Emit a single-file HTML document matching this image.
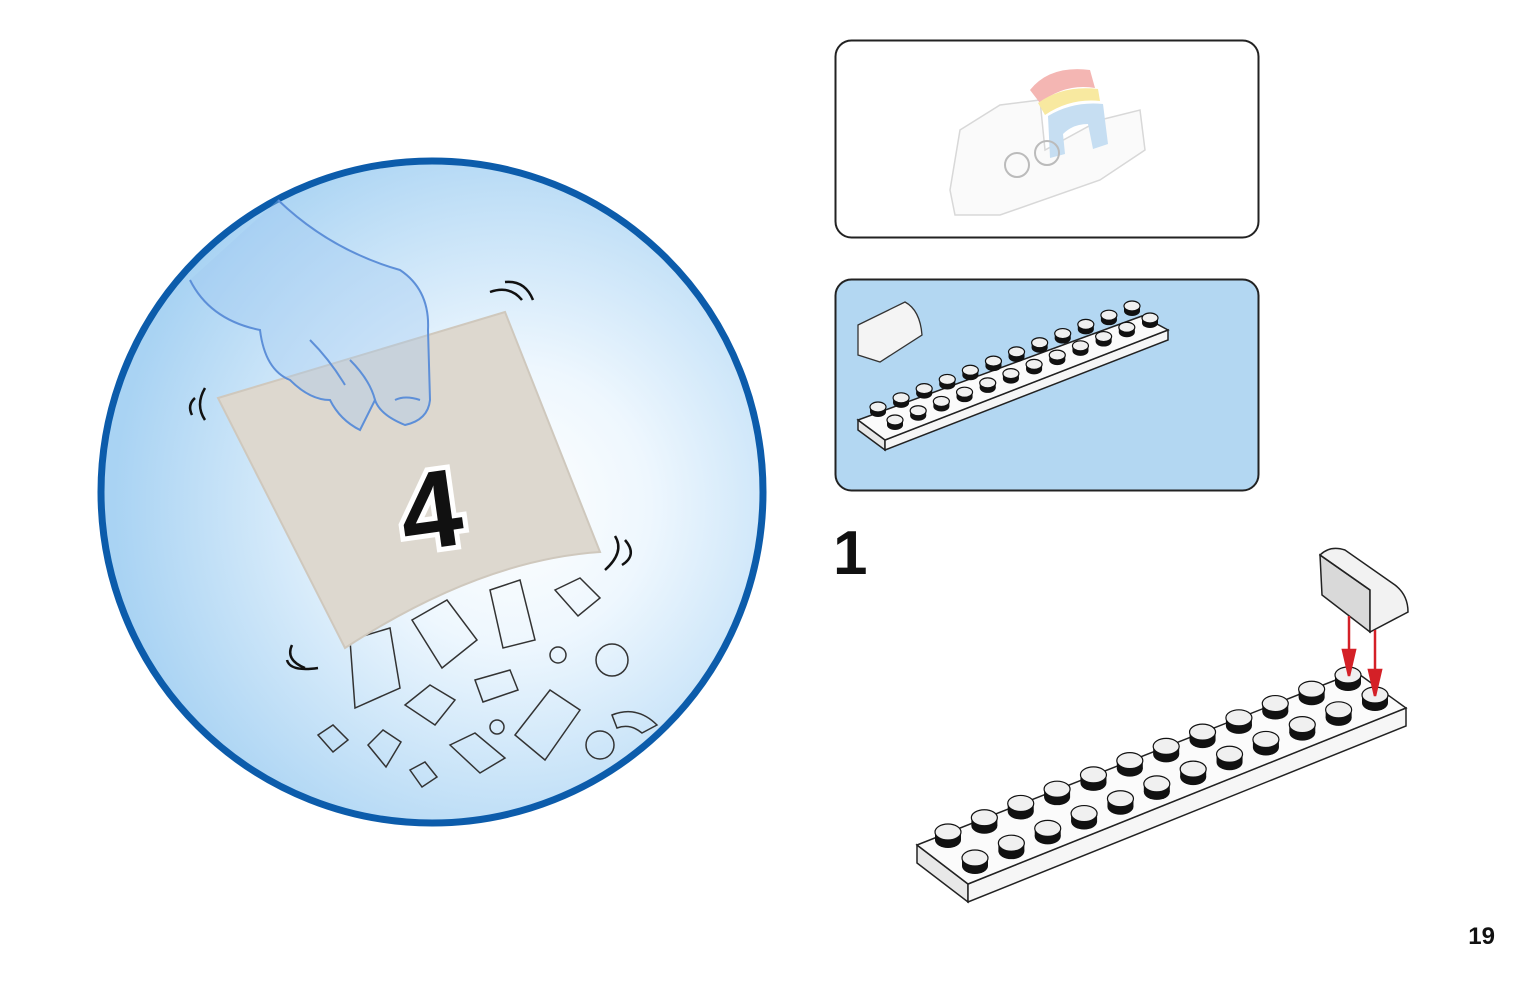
<!DOCTYPE html>
<html><head><meta charset="utf-8"><style>
html,body{margin:0;padding:0;background:#fff;}
svg{display:block;}
</style></head><body>
<svg id="s" width="1535" height="984" viewBox="0 0 1535 984" xmlns="http://www.w3.org/2000/svg" font-family="Liberation Sans, sans-serif">
<defs>
<radialGradient id="g" cx="0.62" cy="0.52" r="0.6">
<stop offset="0" stop-color="#ffffff"/>
<stop offset="0.35" stop-color="#eef7fe"/>
<stop offset="1" stop-color="#a9d3f3"/>
</radialGradient>
</defs>
<circle cx="432" cy="492" r="331" fill="url(#g)" stroke="#0c5cab" stroke-width="7"/>
<!-- bricks below bag -->
<g fill="none" stroke="#333" stroke-width="1.5">
<path d="M350 640 l40 -12 l10 60 l-45 20 z"/><path d="M412 620 l35 -20 l30 40 l-35 28 z"/>
<path d="M490 590 l30 -10 l15 60 l-32 8 z"/><path d="M555 590 l25 -12 l20 20 l-22 18 z"/>
<path d="M405 705 l25 -20 l25 15 l-20 25 z"/><path d="M475 680 l35 -10 l8 20 l-35 12 z"/>
<path d="M515 735 l35 -45 l30 20 l-35 50 z"/><path d="M450 745 l25 -12 l30 25 l-25 15 z"/>
<path d="M318 735 l15 -10 l15 15 l-15 12 z"/><path d="M368 745 l15 -15 l18 12 l-15 25 z"/>
<path d="M410 770 l15 -8 l12 15 l-15 10 z"/><circle cx="612" cy="660" r="16"/><circle cx="600" cy="745" r="14"/>
<path d="M612 715 q25 -10 45 10 l-15 8 q-12 -10 -25 -5 z"/><circle cx="558" cy="655" r="8"/><circle cx="497" cy="727" r="7"/>
</g>
<!-- bag -->
<path d="M218 398 L505 312 L600 552 Q480 560 345 648 Z" fill="#ddd8cf" stroke="#cfc8bd" stroke-width="2"/>
<!-- hand -->
<path d="M278 200 Q330 250 400 270 Q430 290 428 330 L430 400 Q428 420 405 425 Q380 415 375 400 L360 430 Q340 420 330 400 Q310 400 290 380 Q265 370 260 330 Q210 320 190 280" fill="rgba(160,200,240,0.35)" stroke="#5d8fd8" stroke-width="2"/>
<path d="M310 340 Q330 360 345 385 M350 360 Q370 380 375 400 M395 400 Q405 395 420 400" fill="none" stroke="#5d8fd8" stroke-width="2"/>
<!-- shake marks -->
<g fill="none" stroke="#111" stroke-width="2.5">
<path d="M490 292 Q510 285 522 300 M505 282 Q525 280 533 300"/>
<path d="M205 388 Q195 405 205 420 M195 398 Q187 405 192 415"/>
<path d="M615 536 Q625 552 605 570 M625 540 Q638 555 622 565"/>
<path d="M292 645 Q285 660 305 668 M287 660 Q290 672 318 668"/>
</g>
<text x="430" y="548" font-size="110" font-weight="bold" text-anchor="middle" fill="#111" stroke="#fff" stroke-width="10" paint-order="stroke" transform="rotate(-8 430 505)">4</text>
<!-- top box -->
<rect x="835.5" y="40.5" width="423" height="197" rx="16" fill="#fff" stroke="#222" stroke-width="2"/>
<g stroke="#d8d8d8" fill="#fafafa" stroke-width="1.5">
<path d="M950 190 L960 130 L1000 105 L1040 100 L1045 150 L1100 120 L1140 110 L1145 150 L1100 180 L1000 215 L955 215 Z"/>
</g>
<path d="M1030 90 q20 -25 60 -20 l5 18 q-30 -5 -55 15 z" fill="#f4b6b3"/>
<path d="M1038 103 q25 -18 60 -14 l2 12 q-30 -3 -55 14 z" fill="#f8e9a0"/>
<path d="M1048 116 q25 -15 55 -12 l5 40 l-15 5 l-5 -25 q-15 0 -25 10 l2 20 l-15 4 z" fill="#c6def2"/>
<circle cx="1017" cy="165" r="12" fill="none" stroke="#bbb" stroke-width="2"/><circle cx="1047" cy="153" r="12" fill="none" stroke="#bbb" stroke-width="2"/>
<!-- second box -->
<rect x="835.5" y="279.5" width="423" height="211" rx="16" fill="#b3d7f2" stroke="#222" stroke-width="2"/>
<path d="M858 325 L905 302 Q920 310 922 335 L880 362 L858 355 Z" fill="#f4f4f4" stroke="#333" stroke-width="1.3"/>
<g id="small"></g>
<text x="833" y="574" font-size="62" font-weight="bold" fill="#111">1</text>
<g id="big"></g>
<!-- slope brick -->
<path d="M1320 555 L1322 595 L1370 632 L1370 590 Z" fill="#d9d9d9" stroke="#222" stroke-width="1.5"/>
<path d="M1320 555 Q1330 545 1345 550 L1395 585 Q1408 595 1408 612 L1370 632 L1370 590 Z" fill="#f2f2f2" stroke="#222" stroke-width="1.5"/>
<path d="M1370 590 L1320 555" stroke="#222" stroke-width="1.5"/>
<g stroke="#d42027" stroke-width="2.5" fill="#d42027">
<line x1="1349" y1="616" x2="1349" y2="660"/><path d="M1343 650 L1349 676 L1355 650 Z"/>
<line x1="1375" y1="630" x2="1375" y2="680"/><path d="M1369 670 L1375 696 L1381 670 Z"/>
</g>
<text x="1495" y="944" font-size="24" font-weight="bold" text-anchor="end" fill="#111">19</text>
</svg>
<script>
function plate(gid,L,F,R,B,th,b0,b1,f0,f1,rx,ry,h){
 var g=document.getElementById(gid),s='';
 function p(a){return a.map(function(q){return q.join(',')}).join(' ');}
 s+='<polygon points="'+p([L,F,[F[0],F[1]+th],[L[0],L[1]+th]])+'" fill="#e8e8e8" stroke="#222" stroke-width="1.5"/>';
 s+='<polygon points="'+p([F,R,[R[0],R[1]+th],[F[0],F[1]+th]])+'" fill="#f6f6f6" stroke="#222" stroke-width="1.5"/>';
 s+='<polygon points="'+p([L,F,R,B])+'" fill="#fbfbfb" stroke="#222" stroke-width="1.5"/>';
 var rows=[[b0,b1],[f0,f1]];
 rows.forEach(function(r){for(var i=0;i<12;i++){var x=r[0][0]+(r[1][0]-r[0][0])*i/11,y=r[0][1]+(r[1][1]-r[0][1])*i/11;
  s+='<rect x="'+(x-rx)+'" y="'+(y-h)+'" width="'+(2*rx)+'" height="'+h+'" fill="#111"/>';
  s+='<ellipse cx="'+x+'" cy="'+y+'" rx="'+rx+'" ry="'+ry+'" fill="#111"/>';
  s+='<ellipse cx="'+x+'" cy="'+(y-h)+'" rx="'+rx+'" ry="'+ry+'" fill="#f0f0f0" stroke="#111" stroke-width="1.2"/>';}});
 g.innerHTML=s;
}
plate('big',[917,845],[968,884],[1406,708],[1356,672],18,[948,840],[1348,683],[975,866],[1375,703],13,8,8);
plate('small',[858,420],[885,440],[1168,330],[1142,316],10,[878,412],[1132,311],[895,425],[1150,323],8,5,5);
</script>
</body></html>
